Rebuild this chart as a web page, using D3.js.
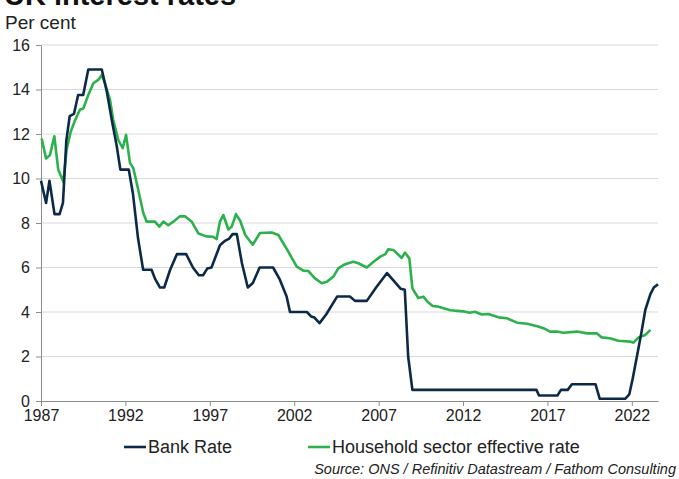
<!DOCTYPE html>
<html lang="en">
<head>
    <meta charset="UTF-8">
    <title>UK interest rates</title>
    <script src="https://d3js.org/d3.v7.min.js"></script>
    <style>
        body { margin: 0; background: #fff; font-family: "Liberation Sans", Arial, sans-serif; }
        svg { display: block; }
        .grid line { stroke: #d9d9d9; stroke-width: 1; }
        .axis path, .axis line { stroke: #8c8c8c; }
        .axis text { font-size: 16px; fill: #222; font-family: "Liberation Sans", Arial, sans-serif; }
    </style>
</head>
<body>
<div id="chart"></div>
<script>
    // Bank Rate, per cent (year, value)
    const bankYears = [1987.0, 1987.3, 1987.5, 1987.8, 1988.1, 1988.3, 1988.5, 1988.7, 1988.95, 1989.2,
        1989.5, 1989.8, 1990.6, 1990.9, 1991.2, 1991.5, 1991.7, 1992.0, 1992.2, 1992.45,
        1992.75, 1993.05, 1993.55, 1993.75, 1994.05, 1994.3, 1994.65, 1995.05, 1995.6, 1996.0,
        1996.35, 1996.6, 1996.85, 1997.1, 1997.6, 1997.9, 1998.15, 1998.35, 1998.6, 1998.9,
        1999.25, 1999.55, 1999.95, 2000.75, 2001.15, 2001.55, 2001.75, 2002.75, 2003.0, 2003.2,
        2003.5, 2003.9, 2004.55, 2005.3, 2005.6, 2006.3, 2006.85, 2007.5, 2008.3, 2008.55,
        2008.75, 2009.0, 2016.35, 2016.5, 2017.6, 2017.8, 2018.2, 2018.45, 2019.85, 2020.1,
        2021.6, 2021.85, 2022.05, 2022.3, 2022.55, 2022.8, 2023.1, 2023.3, 2023.55];
    const bankRate = [9.9, 8.9, 9.9, 8.4, 8.4, 8.9, 11.7, 12.8, 12.9, 13.75,
        13.75, 14.9, 14.9, 13.9, 12.6, 11.4, 10.4, 10.4, 10.4, 9.3,
        7.3, 5.9, 5.9, 5.5, 5.1, 5.1, 5.9, 6.6, 6.6, 6.0,
        5.65, 5.65, 5.95, 6.0, 7.0, 7.2, 7.3, 7.5, 7.5, 6.2,
        5.1, 5.3, 6.0, 6.0, 5.45, 4.7, 4.0, 4.0, 3.8, 3.75,
        3.5, 3.9, 4.7, 4.7, 4.5, 4.5, 5.1, 5.75, 5.05, 5.0,
        2.0, 0.5, 0.5, 0.25, 0.25, 0.5, 0.5, 0.75, 0.75, 0.1,
        0.1, 0.3, 1.0, 2.0, 3.0, 4.1, 4.8, 5.1, 5.25];

    // Household sector effective rate, per cent (year, value)
    const hhYears = [1987.04, 1987.3, 1987.53, 1987.79, 1988.02, 1988.32, 1988.52, 1988.76, 1989.01, 1989.31,
        1989.51, 1989.8, 1990.1, 1990.39, 1990.6, 1990.79, 1991.09, 1991.28, 1991.58, 1991.84,
        1992.04, 1992.27, 1992.47, 1992.7, 1993.06, 1993.26, 1993.75, 1994.01, 1994.25, 1994.54,
        1994.84, 1995.23, 1995.53, 1995.93, 1996.32, 1996.8, 1997.2, 1997.4, 1997.6, 1997.8,
        1998.1, 1998.3, 1998.55, 1998.8, 1999.1, 1999.54, 1999.97, 2000.67, 2001.06, 2001.65,
        2002.15, 2002.54, 2002.84, 2003.23, 2003.63, 2003.93, 2004.32, 2004.61, 2004.91, 2005.2,
        2005.5, 2005.8, 2006.3, 2006.7, 2007.1, 2007.4, 2007.57, 2007.87, 2008.37, 2008.56,
        2008.82, 2009.0, 2009.35, 2009.65, 2009.9, 2010.2, 2010.55, 2011.25, 2012.0, 2012.4,
        2012.7, 2013.1, 2013.5, 2014.1, 2014.6, 2015.2, 2015.8, 2016.4, 2016.8, 2017.15,
        2017.55, 2017.95, 2018.75, 2019.35, 2019.92, 2020.2, 2020.7, 2021.2, 2021.9, 2022.1,
        2022.4, 2022.8, 2023.1];
    const hhRate = [11.8, 10.9, 11.05, 11.9, 10.4, 9.85, 11.3, 12.1, 12.6, 13.1,
        13.15, 13.75, 14.28, 14.43, 14.65, 14.28, 13.53, 12.63, 11.73, 11.36,
        11.96, 10.7, 10.46, 9.7, 8.45, 8.06, 8.06, 7.84, 8.06, 7.9,
        8.06, 8.3, 8.3, 8.06, 7.53, 7.4, 7.38, 7.28, 8.06, 8.36,
        7.71, 7.84, 8.4, 8.1, 7.46, 7.02, 7.55, 7.57, 7.46, 6.71,
        6.04, 5.86, 5.84, 5.51, 5.29, 5.36, 5.59, 5.96, 6.11, 6.19,
        6.26, 6.19, 6.0, 6.26, 6.49, 6.6, 6.82, 6.79, 6.43, 6.67,
        6.41, 5.06, 4.63, 4.69, 4.46, 4.27, 4.24, 4.08, 4.03, 3.97,
        4.01, 3.89, 3.91, 3.76, 3.72, 3.52, 3.47, 3.36, 3.26, 3.12,
        3.12, 3.07, 3.12, 3.04, 3.04, 2.86, 2.82, 2.71, 2.67, 2.62,
        2.86, 2.97, 3.2];

    const xTicks = [1987, 1992, 1997, 2002, 2007, 2012, 2017, 2022];
    const yTicks = [0, 2, 4, 6, 8, 10, 12, 14, 16];

    const bankData = bankYears.map((y, i) => ({ year: y, value: bankRate[i] }));
    const hhData = hhYears.map((y, i) => ({ year: y, value: hhRate[i] }));

    const width = 679, height = 479;
    const margin = { left: 41, right: 21, top: 45, bottom: 78 };

    const svg = d3.select("#chart").append("svg")
        .attr("width", width)
        .attr("height", height);

    const x = d3.scaleLinear()
        .domain([1987, 2023.55])
        .range([margin.left, width - margin.right]);
    const y = d3.scaleLinear()
        .domain([0, 16])
        .range([height - margin.bottom, margin.top]);

    // Title (cut off at the top of the frame, as in the original) and unit label
    svg.append("text")
        .attr("x", 4).attr("y", 5)
        .style("font-size", "29px").style("font-weight", "bold").style("fill", "#111")
        .text("UK interest rates");
    svg.append("text")
        .attr("x", 5).attr("y", 29)
        .style("font-size", "19px").style("fill", "#222")
        .text("Per cent");

    // Gridlines
    svg.append("g")
        .attr("class", "grid")
        .selectAll("line")
        .data(yTicks.filter(d => d > 0))
        .enter().append("line")
        .attr("x1", x.range()[0]).attr("x2", x.range()[1])
        .attr("y1", d => y(d)).attr("y2", d => y(d));

    // Axes
    svg.append("g")
        .attr("class", "axis")
        .attr("transform", `translate(0,${y(0)})`)
        .call(d3.axisBottom(x).tickValues(xTicks).tickFormat(d3.format("d")).tickSize(5).tickSizeOuter(0).tickPadding(4));

    svg.append("g")
        .attr("class", "axis")
        .attr("transform", `translate(${x(1987)},0)`)
        .call(d3.axisLeft(y).tickValues(yTicks).tickSize(5).tickSizeOuter(0).tickPadding(6));

    const line = d3.line()
        .x(d => x(d.year))
        .y(d => y(d.value));

    const series = [
        { name: "Bank Rate", data: bankData, color: "#0c2a47" },
        { name: "Household sector effective rate", data: hhData, color: "#2cb14c" }
    ];

    svg.append("path")
        .datum(hhData)
        .attr("fill", "none")
        .attr("stroke", series[1].color)
        .attr("stroke-width", 2.6)
        .attr("stroke-linejoin", "round")
        .attr("d", line);

    svg.append("path")
        .datum(bankData)
        .attr("fill", "none")
        .attr("stroke", series[0].color)
        .attr("stroke-width", 2.6)
        .attr("stroke-linejoin", "round")
        .attr("d", line);

    // Legend
    const legendX = [124, 308];
    const legend = svg.append("g")
        .selectAll("g")
        .data(series)
        .enter().append("g")
        .attr("transform", (d, i) => `translate(${legendX[i]},447)`);
    legend.append("line")
        .attr("x1", 0).attr("x2", 22)
        .attr("stroke", d => d.color)
        .attr("stroke-width", 2.6);
    legend.append("text")
        .attr("x", 24).attr("dy", "0.35em")
        .style("font-size", "18px").style("fill", "#222")
        .text(d => d.name);

    // Source
    svg.append("text")
        .attr("x", 676).attr("y", 474)
        .attr("text-anchor", "end")
        .style("font-size", "14.5px").style("font-style", "italic").style("fill", "#222")
        .text("Source: ONS / Refinitiv Datastream / Fathom Consulting");
</script>
</body>
</html>
